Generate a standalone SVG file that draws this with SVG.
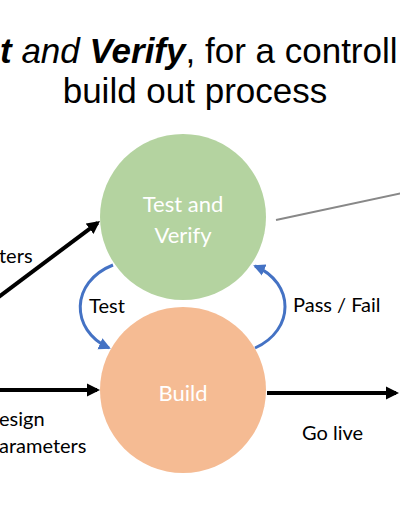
<svg xmlns="http://www.w3.org/2000/svg" width="400" height="516" viewBox="0 0 400 516">
  <style>
    .title { font-family: "Liberation Sans", Arial, sans-serif; font-size: 35px; fill: #000; }
    .lbl { font-family: Lato, "Noto Sans", sans-serif; font-size: 20px; fill: #000; }
    .ntxt { font-family: Lato, "Noto Sans", sans-serif; font-size: 22px; fill: #fff; text-anchor: middle; }
    .blk { stroke: #000; stroke-width: 4; fill: none; }
    .blue { stroke: #4472C4; stroke-width: 3; fill: none; }
  </style>
  <defs>
    <marker id="ahBlack" viewBox="0 -7 13 14" refX="10" refY="0" markerWidth="13" markerHeight="14" markerUnits="userSpaceOnUse" orient="auto">
      <path d="M0,-6.5 L13,0 L0,6.5 z" fill="#000"/>
    </marker>
    <marker id="ahBlue" viewBox="0 -6.5 12 13" refX="10" refY="0" markerWidth="12" markerHeight="13" markerUnits="userSpaceOnUse" orient="auto">
      <path d="M0,-6 L12,0 L0,6 z" fill="#4472C4"/>
    </marker>
  </defs>
  <rect width="400" height="516" fill="#fff"/>

  <g id="title">
    <text class="title" x="0" y="63"><tspan font-weight="bold" font-style="italic">t</tspan><tspan font-style="italic"> and </tspan><tspan font-weight="bold" font-style="italic">Verify</tspan>, for a controll</text>
    <text class="title" x="195" y="103" text-anchor="middle">build out process</text>
  </g>

  <g id="test-verify">
    <circle cx="183" cy="217" r="83" fill="#B4D3A0"/>
    <text class="ntxt" x="183" y="212">Test and</text>
    <text class="ntxt" x="183" y="243">Verify</text>
  </g>

  <g id="build">
    <circle cx="183" cy="390" r="83" fill="#F5BB93"/>
    <text class="ntxt" x="183" y="401">Build</text>
  </g>

  <g id="connectors">
    <line class="blk" x1="-4" y1="299" x2="97.6" y2="222.8" marker-end="url(#ahBlack)"/>
    <line class="blk" x1="-4" y1="390" x2="97" y2="390" marker-end="url(#ahBlack)"/>
    <line class="blk" x1="267" y1="393" x2="396" y2="393" marker-end="url(#ahBlack)"/>
    <line x1="276" y1="220" x2="402" y2="193" stroke="#888" stroke-width="2"/>
    <path class="blue" d="M113,265 C70,282 70,330 109,348" marker-end="url(#ahBlue)"/>
    <path class="blue" d="M255,348 C295,330 295,283 255,266" marker-end="url(#ahBlue)"/>
  </g>

  <g id="labels">
    <text class="lbl" x="-1" y="263">ters</text>
    <text class="lbl" x="107" y="313" text-anchor="middle">Test</text>
    <text class="lbl" x="293" y="312">Pass / Fail</text>
    <text class="lbl" x="-1" y="426">esign</text>
    <text class="lbl" x="-1" y="453">arameters</text>
    <text class="lbl" x="302" y="440">Go live</text>
  </g>
</svg>
